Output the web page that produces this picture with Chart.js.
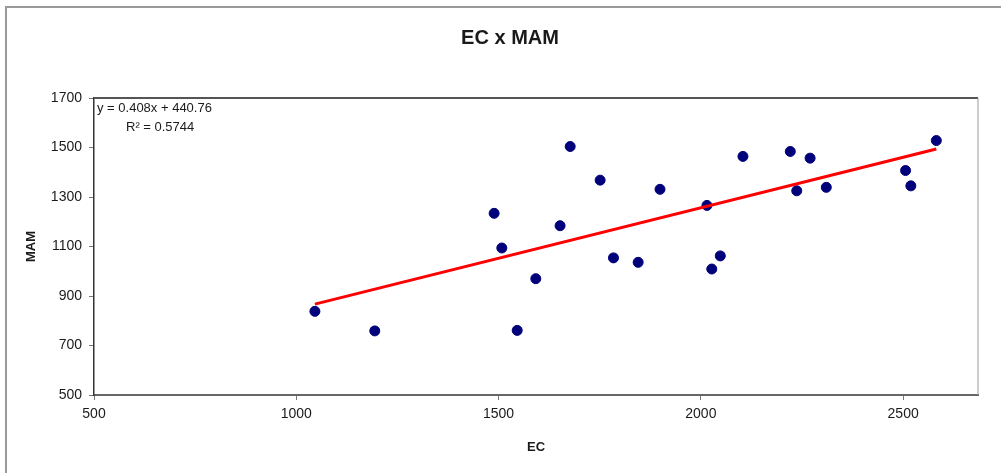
<!DOCTYPE html>
<html>
<head>
<meta charset="utf-8">
<script src="https://cdn.jsdelivr.net/npm/chart.js@4/dist/chart.umd.min.js"></script>
<style>
  html, body { margin: 0; padding: 0; background: #fff; }
  #wrap { width: 1001px; height: 473px; position: relative; }
</style>
</head>
<body>
<div id="wrap"><canvas id="myChart"></canvas></div>
<script>
// EC (x) vs MAM (y)
const ecValues  = [1046, 1194, 1489, 1508, 1546, 1592, 1652, 1677, 1751, 1784, 1845, 1899, 2015, 2027, 2048, 2104, 2221, 2237, 2270, 2310, 2506, 2519, 2582];
const mamValues = [ 838,  759, 1234, 1094,  761,  970, 1184, 1504, 1368, 1054, 1036, 1331, 1266, 1009, 1062, 1464, 1484, 1325, 1457, 1339, 1407, 1345, 1528];

// linear trend line y = 0.408x + 440.76, ends at the first and last EC value
const trendX = [1046, 2582];
const trendY = [867, 1494];

const xTicks = [500, 1000, 1500, 2000, 2500];
const yTicks = [500, 700, 900, 1100, 1300, 1500, 1700];

const chartTitle = 'EC x MAM';
const xTitle = 'EC';
const yTitle = 'MAM';
const eqLines = ['y = 0.408x + 440.76', 'R² = 0.5744'];

const FONT = '"Liberation Sans", Arial, sans-serif';

// frame of the plot area + outer box + equation text
const extras = {
  id: 'extras',
  beforeDraw(chart) {
    const c = chart.ctx;
    c.save();
    c.strokeStyle = '#9a9a9a';
    c.lineWidth = 2;
    c.beginPath();
    c.moveTo(5, 7); c.lineTo(1001, 7);
    c.moveTo(6, 7); c.lineTo(6, 473);
    c.stroke();
    c.restore();
  },
  afterDraw(chart) {
    const c = chart.ctx;
    const a = chart.chartArea;
    c.save();
    c.strokeStyle = '#555';
    c.lineWidth = 2;
    c.beginPath();
    c.moveTo(a.left, a.top); c.lineTo(a.right, a.top);
    c.stroke();
    c.strokeStyle = '#999';
    c.lineWidth = 1;
    c.beginPath();
    c.moveTo(a.right, a.top); c.lineTo(a.right, a.bottom);
    c.stroke();

    c.fillStyle = '#1a1a1a';
    c.font = '13px ' + FONT;
    c.textBaseline = 'middle';
    c.fillText(eqLines[0], a.left + 3, a.top + 10);
    c.fillText(eqLines[1], a.left + 32, a.top + 29);
    c.restore();
  }
};

const ctx = document.getElementById('myChart').getContext('2d');
const points = ecValues.map((v, i) => ({ x: v, y: mamValues[i] }));
const trend = trendX.map((v, i) => ({ x: v, y: trendY[i] }));
const plain = v => String(v);

new Chart(ctx, {
  type: 'scatter',
  data: {
    datasets: [
      {
        label: 'MAM',
        data: points,
        backgroundColor: '#00007a',
        borderColor: '#00007a',
        pointRadius: 5,
        pointHoverRadius: 5,
        order: 2
      },
      {
        type: 'line',
        label: 'trend',
        data: trend,
        borderColor: '#ff0000',
        borderWidth: 3,
        pointRadius: 0,
        fill: false,
        order: 1
      }
    ]
  },
  options: {
    responsive: true,
    maintainAspectRatio: false,
    animation: false,
    devicePixelRatio: 1,
    layout: { padding: { left: 19, right: 0, top: 0, bottom: 0 } },
    plugins: {
      legend: { display: false },
      tooltip: { enabled: false },
      title: {
        display: true,
        text: chartTitle,
        color: '#1a1a1a',
        font: { family: FONT, size: 20, weight: 'bold' },
        padding: { top: 26, bottom: 48 }
      }
    },
    scales: {
      x: {
        type: 'linear',
        min: 500,
        max: 2685,
        afterBuildTicks(scale) { scale.ticks = xTicks.map(v => ({ value: v })); },
        afterFit(scale) { scale.height = 78; },
        grid: { drawOnChartArea: false, tickLength: 5, color: '#777' },
        border: { color: '#666', width: 2 },
        ticks: { color: '#1a1a1a', padding: 6, font: { family: FONT, size: 14 }, callback: plain },
        title: {
          display: true,
          text: xTitle,
          color: '#1a1a1a',
          font: { family: FONT, size: 13, weight: 'bold' },
          padding: { top: 0, bottom: 18 }
        }
      },
      y: {
        type: 'linear',
        min: 500,
        max: 1700,
        afterBuildTicks(scale) { scale.ticks = yTicks.map(v => ({ value: v })); },
        afterFit(scale) { scale.width = 75; },
        grid: { drawOnChartArea: false, tickLength: 5, color: '#777' },
        border: { color: '#333', width: 1.5 },
        ticks: { color: '#1a1a1a', padding: 7, font: { family: FONT, size: 14 }, callback: plain },
        title: {
          display: true,
          text: yTitle,
          color: '#1a1a1a',
          font: { family: FONT, size: 13, weight: 'bold' },
          padding: { top: 5, bottom: 0 }
        }
      },
      y2: {
        position: 'right',
        display: true,
        afterFit(scale) { scale.width = 23; },
        grid: { display: false },
        border: { display: false },
        ticks: { display: false }
      }
    }
  },
  plugins: [extras]
});
</script>
</body>
</html>
